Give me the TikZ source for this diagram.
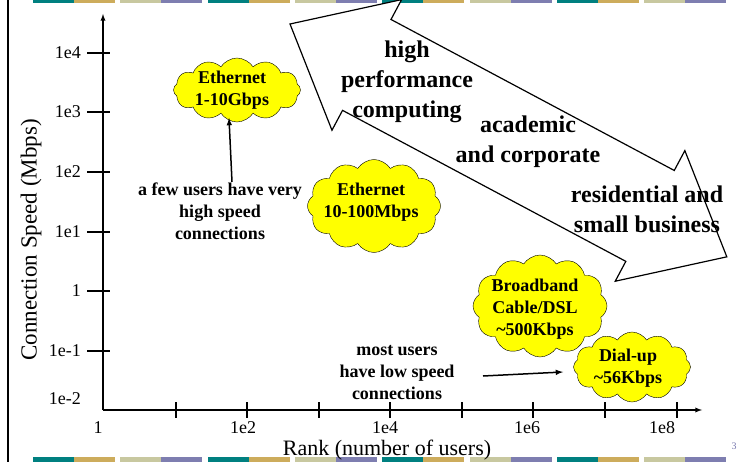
\documentclass[tikz,border=0pt]{standalone}
\usepackage{fontspec}
\setmainfont{Liberation Serif}
\usepackage{tikz}
\usepackage{xcolor}
\usetikzlibrary{calc, shapes.symbols, arrows}

\definecolor{barteal}{RGB}{0,128,128}
\definecolor{bartan}{RGB}{205,172,92}
\definecolor{barkhaki}{RGB}{200,200,160}
\definecolor{barpurple}{RGB}{126,126,176}
\definecolor{cloudyellow}{RGB}{255,255,0}
\definecolor{pagegrey}{RGB}{120,120,175}

\begin{document}
\begin{tikzpicture}[x=1pt, y=-1pt,
      puff/.style={
        cloud,
        cloud puffs=12,
        cloud puff arc=115,
        cloud ignores aspect,
        draw,
        fill=cloudyellow,
        inner sep=0pt
      },
      puff text/.style={align=center, font=\fontsize{18}{22}\selectfont\bfseries},
      note/.style={align=center, font=\fontsize{18}{22}\selectfont\bfseries},
      band/.style={align=center, font=\fontsize{24}{30}\selectfont\bfseries},
      tick label/.style={inner sep=1pt, font=\fontsize{18}{22}\selectfont},
      axis label/.style={inner sep=0pt, font=\fontsize{23}{27}\selectfont},
      >=latex]

    \useasboundingbox (0,0) rectangle (738,462);

    \foreach \i/\ca/\cb in {0/barteal/bartan,1/barkhaki/barpurple,2/barteal/bartan,3/barkhaki/barpurple,
                            4/barteal/bartan,5/barkhaki/barpurple,6/barteal/bartan,7/barkhaki/barpurple}{
      \fill[\ca] (33+87.3*\i,0) rectangle ++(41,3);
      \fill[\cb] (74+87.3*\i,0) rectangle ++(41,3);
      \fill[\ca] (33+87.3*\i,457) rectangle ++(41,5);
      \fill[\cb] (74+87.3*\i,457) rectangle ++(41,5);
    }
    \draw[line width=1.3pt] (8,0) -- (8,462);

    \coordinate (origin) at (103,410);
    \coordinate (ytop) at (103,14);
    \coordinate (xend) at (702,410);
    \draw[->, line width=1.3pt] (origin) -- (ytop);
    \draw[->, line width=1.3pt] (origin) -- (xend);

    \foreach \y/\lab in {53/1e4,112/1e3,172/1e2,232/1e1,291/1,351/1e-1}{
      \draw[line width=1.2pt] (87,\y) -- (110,\y);
      \node[tick label, anchor=east] (ylab-\lab) at (82,\y) {\lab};
    }
    \node[tick label, anchor=east] (ylab-1e-2) at (82,399) {1e-2};
    \foreach \x in {176,247,319,390,462,533,605,677}
      \draw[line width=1.2pt] (\x,402) -- (\x,418);
    \foreach \x/\lab in {98/1,243/1e2,385/1e4,527/1e6,662/1e8}
      \node[tick label] (xlab-\lab) at (\x,428) {\lab};

    \node[axis label, rotate=90] (ytitle) at (31,240) {Connection Speed (Mbps)};
    \node[axis label, font=\fontsize{22}{26}\selectfont] (xtitle) at (387,450) {Rank (number of users)};
    \node[font=\fontsize{10}{12}\selectfont, text=pagegrey] (pagenum) at (734,446) {3};

    \begin{scope}[shift={(290,24)}, rotate=-28.06]
      \draw[line width=1.2pt, fill=white] (0,0) -- (87,74) -- (87,51.5) -- (408,51.5) -- (408,74)
        -- (495,0) -- (408,-74) -- (408,-51.5) -- (87,-51.5) -- (87,-74) -- cycle;
    \end{scope}
    \node[band] (hpc) at (407,82) {high\\performance\\computing};
    \node[band] (acad) at (528,142) {academic\\and corporate};
    \node[band] (resi) at (647,209) {residential and\\small business};

    \node[puff, minimum width=127pt, minimum height=64pt] (gbe) at (237,90) {};
    \node[puff text] (gbetxt) at (232,90) {Ethernet\\1-10Gbps};
    \node[puff, minimum width=133pt, minimum height=93pt] (fast) at (374,206) {};
    \node[puff text] (fasttxt) at (371,202) {Ethernet\\10-100Mbps};
    \node[puff, minimum width=134pt, minimum height=102pt] (dsl) at (540,306) {};
    \node[puff text] (dsltxt) at (535,309) {Broadband\\Cable/DSL\\\textasciitilde500Kbps};
    \node[puff, minimum width=117pt, minimum height=70pt] (dial) at (632,367) {};
    \node[puff text] (dialtxt) at (628,368) {Dial-up\\\textasciitilde56Kbps};

    \node[note] (few) at (220,211) {a few users have very\\high speed\\connections};
    \node[note] (most) at (397,373) {most users\\have low speed\\connections};

    \coordinate (fewtop) at (232,182);
    \coordinate (gbetip) at (229,118);
    \coordinate (mostend) at (483,376);
    \coordinate (dialtip) at (563,372);
    \draw[->, line width=1.5pt] (fewtop) -- (gbetip);
    \draw[->, line width=1.5pt] (mostend) -- (dialtip);
  \end{tikzpicture}
\end{document}
